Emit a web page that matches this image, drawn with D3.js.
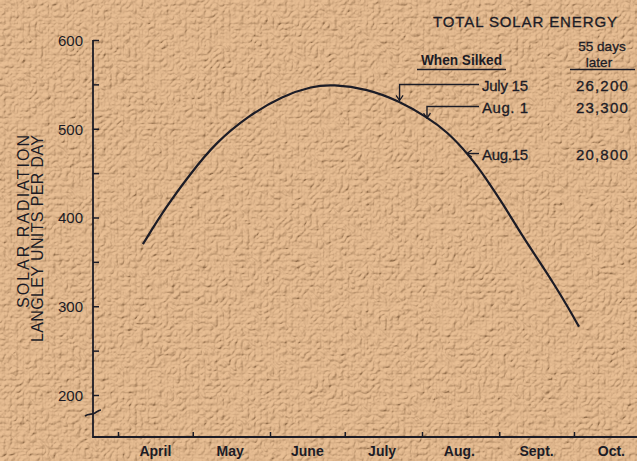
<!DOCTYPE html>
<html>
<head>
<meta charset="utf-8">
<script src="https://cdn.jsdelivr.net/npm/d3@7"></script>
<style>
  html, body { margin: 0; padding: 0; background: #dea979; }
  svg { display: block; font-family: "Liberation Sans", Arial, sans-serif; }
</style>
</head>
<body>
<div id="chart"></div>
<script>
// radiation curve (date, langleys per day)
const curveDates = ["1950-04-11", "1950-04-20", "1950-04-30", "1950-05-10", "1950-05-24",
    "1950-06-06", "1950-06-18", "1950-06-26", "1950-07-10", "1950-07-23", "1950-08-03",
    "1950-08-11", "1950-08-20", "1950-08-27", "1950-09-03", "1950-09-09", "1950-09-16",
    "1950-09-23", "1950-09-29", "1950-10-03"];
const curveValues = [370, 411, 449, 484, 516, 537, 548, 550, 545, 531, 513,
    497, 470, 443, 413, 385, 355, 325, 297, 277];

const monthLabels = ["April", "May", "June", "July", "Aug.", "Sept.", "Oct."];
const monthStarts = ["1950-04-01", "1950-05-01", "1950-06-01", "1950-07-01",
    "1950-08-01", "1950-09-01", "1950-10-01"];
const yTicks = [200, 300, 400, 500, 600];
const yMinorTicks = [250, 350, 450, 550];

// table at top right
const silkedLabels = ["July 15", "Aug. 1", "Aug.15"];
const energyLabels = ["26,200", "23,300", "20,800"];
const pointerDates = ["1950-07-23", "1950-08-03", "1950-08-19"];
const pointerValues = [532, 512, 471];

const width = 637, height = 461;
const axisX = 93, axisY = 437;
const parse = d3.timeParse("%Y-%m-%d");

const x = d3.scaleTime()
    .domain([parse("1950-04-01"), parse("1950-10-01")])
    .range([118, 574]);
const y = d3.scaleLinear().domain([200, 600]).range([395, 40]);

const svg = d3.select("#chart").append("svg")
    .attr("width", width)
    .attr("height", height);

// textured paper
const defs = svg.append("defs");
const f = defs.append("filter").attr("id", "grain")
    .attr("x", 0).attr("y", 0).attr("width", "100%").attr("height", "100%");
f.append("feTurbulence").attr("type", "turbulence").attr("baseFrequency", 0.16)
    .attr("numOctaves", 2).attr("seed", 7).attr("result", "t");
f.append("feColorMatrix").attr("in", "t").attr("type", "luminanceToAlpha").attr("result", "a");
f.append("feDiffuseLighting").attr("in", "a").attr("surfaceScale", 3.5)
    .attr("diffuseConstant", 1).attr("lighting-color", "#fff0d8")
    .append("feDistantLight").attr("azimuth", 235).attr("elevation", 50);

svg.append("rect").attr("width", width).attr("height", height).attr("fill", "#dfa874");
svg.append("rect").attr("width", width).attr("height", height)
    .attr("filter", "url(#grain)").attr("opacity", 0.33);

const ink = "#1c1c26";

defs.append("marker").attr("id", "head")
    .attr("viewBox", "-6 -4 8 8").attr("markerWidth", 8).attr("markerHeight", 8)
    .attr("refX", 0).attr("refY", 0).attr("orient", "auto").attr("markerUnits", "userSpaceOnUse")
    .append("path").attr("d", "M-5,-3.5L0,0L-5,3.5")
    .attr("fill", "none").attr("stroke", ink).attr("stroke-width", 1.3);

// axes
const yAxis = d3.axisLeft(y).tickValues(yTicks).tickSizeInner(-6).tickSizeOuter(0).tickPadding(10);
const yMinor = d3.axisLeft(y).tickValues(yMinorTicks).tickSizeInner(-6).tickSizeOuter(0).tickFormat("");

const gy = svg.append("g").attr("transform", `translate(${axisX},0)`).call(yAxis);
const gym = svg.append("g").attr("transform", `translate(${axisX},0)`).call(yMinor);
[gy, gym].forEach(g => {
    g.select(".domain").remove();
    g.selectAll("line").attr("stroke", ink).attr("stroke-width", 1.5);
});
gy.selectAll("text").attr("fill", ink).attr("font-size", 15).attr("dy", "0.36em");

const xAxis = d3.axisBottom(x).tickValues(monthStarts.map(parse))
    .tickSizeInner(-5).tickSizeOuter(0).tickFormat("");
const gx = svg.append("g").attr("transform", `translate(0,${axisY})`).call(xAxis);
gx.select(".domain").remove();
gx.selectAll("line").attr("stroke", ink).attr("stroke-width", 1.5);

svg.append("path")
    .attr("d", `M${axisX},${y(600)}V${axisY}H${width}`)
    .attr("fill", "none").attr("stroke", ink).attr("stroke-width", 1.8);

// axis break
svg.append("path")
    .attr("d", `M85,416 C89,413 92,415 95,413 S99,410 101,410`)
    .attr("fill", "none").attr("stroke", ink).attr("stroke-width", 1.6);

svg.append("g").selectAll("text").data(monthLabels).join("text")
    .attr("x", (d, i) => x(d3.timeDay.offset(parse(monthStarts[i]), 15)))
    .attr("y", 456)
    .attr("text-anchor", "middle")
    .attr("font-size", 14).attr("font-weight", "bold")
    .attr("fill", ink)
    .text(d => d);

// y title
const yt = svg.append("g").attr("transform", "rotate(-90)");
yt.append("text").attr("x", -135).attr("y", 29).attr("text-anchor", "end")
    .attr("font-size", 16).attr("fill", ink)
    .attr("textLength", 173).attr("lengthAdjust", "spacing")
    .text("SOLAR RADIATION");
yt.append("text").attr("x", -135).attr("y", 43).attr("text-anchor", "end")
    .attr("font-size", 16).attr("fill", ink)
    .attr("textLength", 207).attr("lengthAdjust", "spacing")
    .text("LANGLEY UNITS PER DAY");

// curve
const pts = curveDates.map((d, i) => [parse(d), curveValues[i]]);
svg.append("path").datum(pts)
    .attr("d", d3.line().x(d => x(d[0])).y(d => y(d[1])).curve(d3.curveBasis))
    .attr("fill", "none").attr("stroke", ink).attr("stroke-width", 2.2);

// table
svg.append("text").attr("x", 433).attr("y", 27)
    .attr("font-size", 15).attr("fill", ink)
    .attr("stroke", ink).attr("stroke-width", 0.3)
    .attr("textLength", 184).attr("lengthAdjust", "spacing")
    .text("TOTAL SOLAR ENERGY");
svg.append("text").attr("x", 421).attr("y", 65)
    .attr("font-size", 14).attr("font-weight", "bold").attr("fill", ink)
    .attr("textLength", 81).attr("lengthAdjust", "spacingAndGlyphs")
    .text("When Silked");
svg.append("text").attr("x", 602).attr("y", 51).attr("text-anchor", "middle")
    .attr("font-size", 13.5).attr("fill", ink)
    .attr("stroke", ink).attr("stroke-width", 0.3)
    .text("55 days");
svg.append("text").attr("x", 599).attr("y", 67).attr("text-anchor", "middle")
    .attr("font-size", 13.5).attr("fill", ink)
    .attr("stroke", ink).attr("stroke-width", 0.3)
    .text("later");
svg.append("path").attr("d", "M417,69.5H506M570,69.5H635")
    .attr("stroke", ink).attr("stroke-width", 1.6);

const rowY = [91, 113, 160];
const rows = svg.append("g");
rows.selectAll("text.sil").data(silkedLabels).join("text")
    .attr("class", "sil")
    .attr("x", 482).attr("y", (d, i) => rowY[i])
    .attr("font-size", 15).attr("fill", ink)
    .attr("stroke", ink).attr("stroke-width", 0.3)
    .attr("textLength", 46).attr("lengthAdjust", "spacing")
    .text(d => d);
rows.selectAll("text.en").data(energyLabels).join("text")
    .attr("class", "en")
    .attr("x", 629).attr("y", (d, i) => rowY[i])
    .attr("text-anchor", "end")
    .attr("font-size", 15).attr("fill", ink)
    .attr("stroke", ink).attr("stroke-width", 0.3)
    .attr("letter-spacing", 1.2)
    .text(d => d);

// pointers from labels to curve
pointerDates.forEach((d, i) => {
    const px = x(parse(d)), py = y(pointerValues[i]);
    const ly = rowY[i] - 6.5;
    const p = i < 2
        ? `M479,${ly}H${px}V${py}`
        : `M479,${ly}H${px}`;
    rows.append("path").attr("d", p)
        .attr("fill", "none").attr("stroke", ink).attr("stroke-width", 1.4)
        .attr("marker-end", "url(#head)");
});
</script>
</body>
</html>
